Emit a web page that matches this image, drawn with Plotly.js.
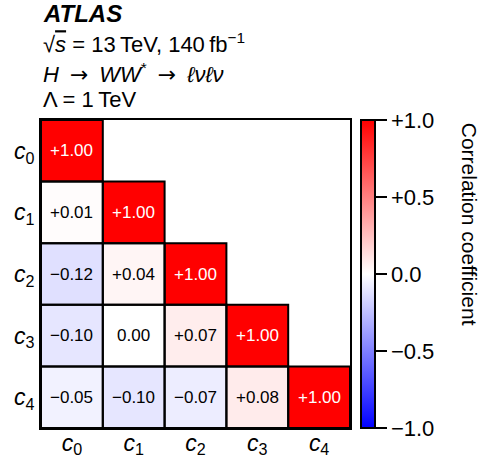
<!DOCTYPE html>
<html>
<head>
<meta charset="utf-8">
<script src="https://cdn.plot.ly/plotly-3.0.1.min.js"></script>
<style>html,body{margin:0;padding:0;background:#fff;}#chart{width:482px;height:461px;}</style>
</head>
<body>
<div id="chart"></div>
<script>
// Data
var paramLabels = ["c0", "c1", "c2", "c3", "c4"];
var tickLabels = ["<i>c</i><sub>0</sub>", "<i>c</i><sub>1</sub>", "<i>c</i><sub>2</sub>", "<i>c</i><sub>3</sub>", "<i>c</i><sub>4</sub>"];
var rowC0 = [1.00, null, null, null, null];
var rowC1 = [0.01, 1.00, null, null, null];
var rowC2 = [-0.12, 0.04, 1.00, null, null];
var rowC3 = [-0.10, 0.00, 0.07, 1.00, null];
var rowC4 = [-0.05, -0.10, -0.07, 0.08, 1.00];
var cbTickVals = [-1, -0.5, 0, 0.5, 1];
var cbTickText = ["\u22121.0", "\u22120.5", "0.0", "+0.5", "+1.0"];

var z = [rowC0, rowC1, rowC2, rowC3, rowC4];
var idx = paramLabels.map(function(_, i){ return i; });
var FONT = "Liberation Sans, Arial, Helvetica, sans-serif";

function fmt(v){
  var s = Math.abs(v).toFixed(2);
  if (s === "0.00") return "0.00";
  return (v > 0 ? "+" : "\u2212") + s;
}

var annotations = [];
var shapes = [];
for (var i = 0; i < z.length; i++) {
  for (var j = 0; j < z[i].length; j++) {
    var v = z[i][j];
    if (v === null) continue;
    annotations.push({
      x: idx[j], y: idx[i], xref: "x", yref: "y",
      text: fmt(v), showarrow: false,
      font: {family: FONT, size: 17, color: Math.abs(v) > 0.5 ? "#ffffff" : "#000000"}
    });
    shapes.push({
      type: "rect", xref: "x", yref: "y",
      x0: idx[j] - 0.5, x1: idx[j] + 0.5, y0: idx[i] - 0.5, y1: idx[i] + 0.5,
      line: {color: "#000", width: 2}, layer: "above"
    });
  }
}

// Header texts
var ARROW = "<span style='font-family:DejaVu Sans'>\u2192</span>";
var header = [
  {text: "<b><i>ATLAS</i></b>", y: 1.347, size: 24},
  {text: "\u221A<span style='text-decoration:overline'><i>s</i></span> = 13\u2009TeV, 140\u2009fb<sup>\u22121</sup>", y: 1.25, size: 22},
  {text: "<i>H</i>\u2002" + ARROW + "\u2002<i>WW</i><sup>*</sup>\u2002" + ARROW + "\u2002<i>\u2113\u03BD\u2113\u03BD</i>", y: 1.153, size: 22},
  {text: "\u039B = 1\u2009TeV", y: 1.065, size: 22}
];
header.forEach(function(h){
  annotations.push({
    x: 0, y: h.y, xref: "paper", yref: "paper", xanchor: "left", yanchor: "middle",
    text: h.text, showarrow: false, font: {family: FONT, size: h.size, color: "#000"}
  });
});
annotations.push({
  x: 1.385, y: 0.66, xref: "paper", yref: "paper", xanchor: "center", yanchor: "middle",
  text: "Correlation coefficient", textangle: 90, showarrow: false,
  font: {family: FONT, size: 21, color: "#000"}
});

var trace = {
  type: "heatmap",
  x: idx, y: idx, z: z,
  zmin: -1, zmax: 1,
  colorscale: [[0, "rgb(0,0,255)"], [0.5, "rgb(255,255,255)"], [1, "rgb(255,0,0)"]],
  hoverinfo: "skip",
  colorbar: {
    x: 1.036, xanchor: "left", xpad: 0,
    y: 0.5, yanchor: "middle", ypad: 0,
    len: 1, lenmode: "fraction",
    thickness: 14, thicknessmode: "pixels",
    outlinewidth: 2, outlinecolor: "#000",
    tickmode: "array", tickvals: cbTickVals, ticktext: cbTickText,
    ticks: "outside", ticklen: 11, tickwidth: 2, tickcolor: "#000",
    tickfont: {family: FONT, size: 22, color: "#000"}
  }
};

var layout = {
  width: 482, height: 461,
  margin: {l: 41, r: 132, t: 120, b: 33},
  paper_bgcolor: "#fff", plot_bgcolor: "#fff",
  showlegend: false,
  xaxis: {
    range: [-0.5, 4.5], tickmode: "array", tickvals: idx, ticktext: tickLabels,
    showgrid: false, zeroline: false, showline: true, mirror: true, linecolor: "#000", linewidth: 2,
    ticks: "", ticklabelstandoff: -7, tickfont: {family: FONT, size: 23, color: "#000"}, fixedrange: true
  },
  yaxis: {
    range: [4.5, -0.5], tickmode: "array", tickvals: idx, ticktext: tickLabels,
    showgrid: false, zeroline: false, showline: true, mirror: true, linecolor: "#000", linewidth: 2,
    ticks: "", tickfont: {family: FONT, size: 23, color: "#000"}, fixedrange: true
  },
  annotations: annotations,
  shapes: shapes
};

Plotly.newPlot("chart", [trace], layout, {displayModeBar: false, staticPlot: true});
</script>
</body>
</html>
